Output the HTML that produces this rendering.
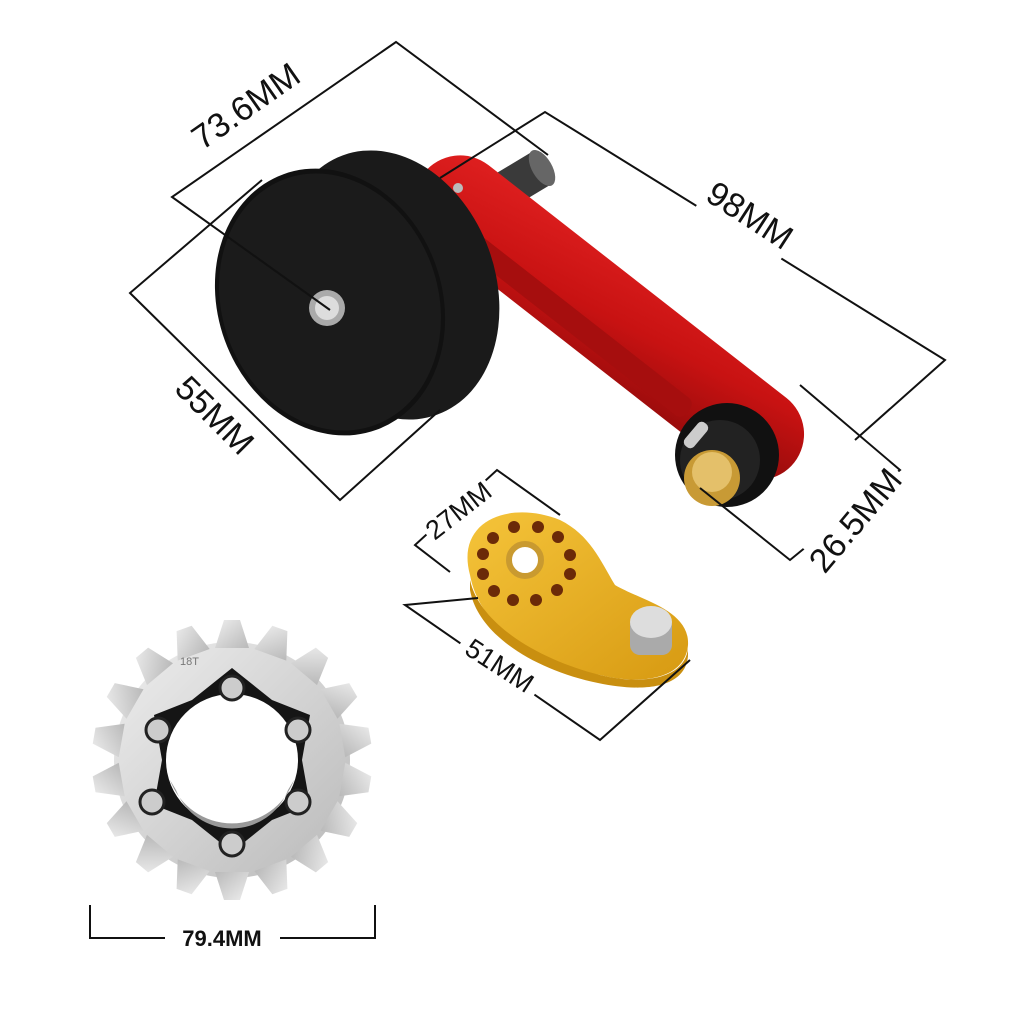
<!DOCTYPE html>
<html><head><meta charset="utf-8"><style>
html,body{margin:0;padding:0;background:#fff;}
svg{display:block}
text{font-family:"Liberation Sans",sans-serif;fill:#111;}
</style></head><body>
<svg width="1024" height="1024" viewBox="0 0 1024 1024" xmlns="http://www.w3.org/2000/svg">
<defs>
<linearGradient id="red" x1="0" y1="0" x2="1" y2="1">
<stop offset="0" stop-color="#e02020"/><stop offset="0.5" stop-color="#c81212"/><stop offset="1" stop-color="#8c0a0a"/></linearGradient>
<linearGradient id="gold" x1="0" y1="0" x2="1" y2="1">
<stop offset="0" stop-color="#f5c43a"/><stop offset="1" stop-color="#d79a12"/></linearGradient>
<linearGradient id="silver" x1="0" y1="0" x2="1" y2="1">
<stop offset="0" stop-color="#eeeeee"/><stop offset="1" stop-color="#b9b9b9"/></linearGradient>
<polygon id="tooth" points="-17,-112 -8,-140 8,-140 17,-112" fill="url(#silver)"/>
</defs>

<!-- shaft -->
<polygon points="485,180 535,150 550,185 500,215" fill="#3a3a3a"/>
<ellipse cx="542" cy="168" rx="10" ry="20" transform="rotate(-30 542 168)" fill="#666"/>

<!-- red arm -->
<g transform="rotate(38 460 200)">
<rect x="415" y="155" width="470" height="92" rx="46" fill="url(#red)"/>
<rect x="470" y="215" width="300" height="22" rx="8" fill="#a60e0e"/>
</g>
<circle cx="458" cy="188" r="5" fill="#bbb"/>

<!-- pulley -->
<ellipse cx="390" cy="285" rx="105" ry="138" transform="rotate(-20 390 285)" fill="#1a1a1a"/>
<ellipse cx="330" cy="302" rx="112" ry="136" transform="rotate(-20 330 302)" fill="#111"/>
<ellipse cx="330" cy="302" rx="108" ry="131" transform="rotate(-20 330 302)" fill="#1b1b1b"/>
<circle cx="327" cy="308" r="18" fill="#aaa"/>
<circle cx="327" cy="308" r="12" fill="#ddd"/>

<!-- end cap -->
<circle cx="727" cy="455" r="52" fill="#111"/>
<circle cx="720" cy="460" r="40" fill="#222"/>
<rect x="690" y="420" width="12" height="30" rx="5" fill="#ccc" transform="rotate(40 696 435)"/>
<circle cx="712" cy="478" r="28" fill="#c89a35"/>
<circle cx="712" cy="472" r="20" fill="#e4c06a"/>

<!-- gold tensioner -->
<path d="M470,575 C455,520 510,500 560,520 C590,535 600,560 615,585 C640,600 690,610 688,645 C685,680 640,685 600,675 C540,665 480,630 470,575 Z" fill="url(#gold)"/>
<path d="M470,580 C480,625 540,660 600,675 C640,685 685,680 688,648 L688,656 C685,690 640,692 598,683 C535,670 478,635 470,590 Z" fill="#c98f10"/>
<circle cx="525" cy="560" r="16" fill="#fff" stroke="#c99a30" stroke-width="6"/>
<g fill="#6b2a08">
<circle cx="514" cy="527" r="6"/><circle cx="538" cy="527" r="6"/><circle cx="558" cy="537" r="6"/>
<circle cx="570" cy="555" r="6"/><circle cx="570" cy="574" r="6"/><circle cx="557" cy="590" r="6"/>
<circle cx="536" cy="600" r="6"/><circle cx="513" cy="600" r="6"/><circle cx="494" cy="591" r="6"/>
<circle cx="483" cy="574" r="6"/><circle cx="483" cy="554" r="6"/><circle cx="493" cy="538" r="6"/>
</g>
<rect x="630" y="615" width="42" height="40" rx="10" fill="#aaa"/>
<ellipse cx="651" cy="622" rx="21" ry="16" fill="#ddd"/>

<!-- sprocket -->
<g transform="translate(232,760)">
<circle r="118" fill="url(#silver)"/>
<g>
<use href="#tooth" transform="rotate(0)"/><use href="#tooth" transform="rotate(20)"/><use href="#tooth" transform="rotate(40)"/>
<use href="#tooth" transform="rotate(60)"/><use href="#tooth" transform="rotate(80)"/><use href="#tooth" transform="rotate(100)"/>
<use href="#tooth" transform="rotate(120)"/><use href="#tooth" transform="rotate(140)"/><use href="#tooth" transform="rotate(160)"/>
<use href="#tooth" transform="rotate(180)"/><use href="#tooth" transform="rotate(200)"/><use href="#tooth" transform="rotate(220)"/>
<use href="#tooth" transform="rotate(240)"/><use href="#tooth" transform="rotate(260)"/><use href="#tooth" transform="rotate(280)"/>
<use href="#tooth" transform="rotate(300)"/><use href="#tooth" transform="rotate(320)"/><use href="#tooth" transform="rotate(340)"/>
</g>
<polygon points="0,-92 40,-60 78,-45 70,0 78,45 40,60 0,92 -40,60 -78,45 -70,0 -78,-45 -40,-60" fill="#151515"/>
<circle r="66" fill="#fff"/>
<path d="M-62,20 A66,66 0 0 0 62,20 L56,30 A60,60 0 0 1 -56,30 Z" fill="#999"/>
<g fill="#ccc" stroke="#222" stroke-width="3">
<circle cx="0" cy="-72" r="12"/><circle cx="66" cy="-30" r="12"/><circle cx="66" cy="42" r="12"/>
<circle cx="0" cy="84" r="12"/><circle cx="-80" cy="42" r="12"/><circle cx="-74" cy="-30" r="12"/>
</g>
<text x="-52" y="-95" font-size="11" style="fill:#777">18T</text>
</g>

<!-- dimension lines -->
<g stroke="#111" stroke-width="2" fill="none">
<polyline points="330,310 172,197 396,42 548,155"/>
<polyline points="440,178 545,112 945,360 855,440"/>
<polyline points="262,180 130,293 340,500 440,410"/>
<polyline points="700,488 790,560 900,470 800,385"/>
<polyline points="560,515 497,470 415,545 450,572"/>
<polyline points="478,598 405,605 600,740 690,660"/>
<polyline points="90,905 90,938 375,938 375,905"/>
</g>
<g font-size="34">
<rect x="185" y="70" width="130" height="60" fill="#fff" transform="rotate(-35 245 105)"/>
<text x="245" y="118" text-anchor="middle" transform="rotate(-35 245 105)">73.6MM</text>
<rect x="700" y="190" width="100" height="50" fill="#fff" transform="rotate(33 750 215)"/>
<text x="750" y="227" text-anchor="middle" transform="rotate(33 750 215)">98MM</text>
<rect x="165" y="390" width="100" height="50" fill="#fff" transform="rotate(45 215 415)"/>
<text x="215" y="427" text-anchor="middle" transform="rotate(45 215 415)">55MM</text>
<rect x="800" y="495" width="120" height="50" fill="#fff" transform="rotate(-50 855 520)"/>
<text x="855" y="532" text-anchor="middle" transform="rotate(-50 855 520)">26.5MM</text>
</g>
<g font-size="27">
<rect x="418" y="492" width="80" height="36" fill="#fff" transform="rotate(-38 458 510)"/>
<text x="458" y="520" text-anchor="middle" transform="rotate(-38 458 510)">27MM</text>
<rect x="455" y="648" width="90" height="36" fill="#fff" transform="rotate(33 500 665)"/>
<text x="500" y="675" text-anchor="middle" transform="rotate(33 500 665)">51MM</text>
</g>
<rect x="165" y="925" width="115" height="26" fill="#fff"/>
<text x="222" y="946" text-anchor="middle" font-size="22" font-weight="bold">79.4MM</text>
</svg>
</body></html>
